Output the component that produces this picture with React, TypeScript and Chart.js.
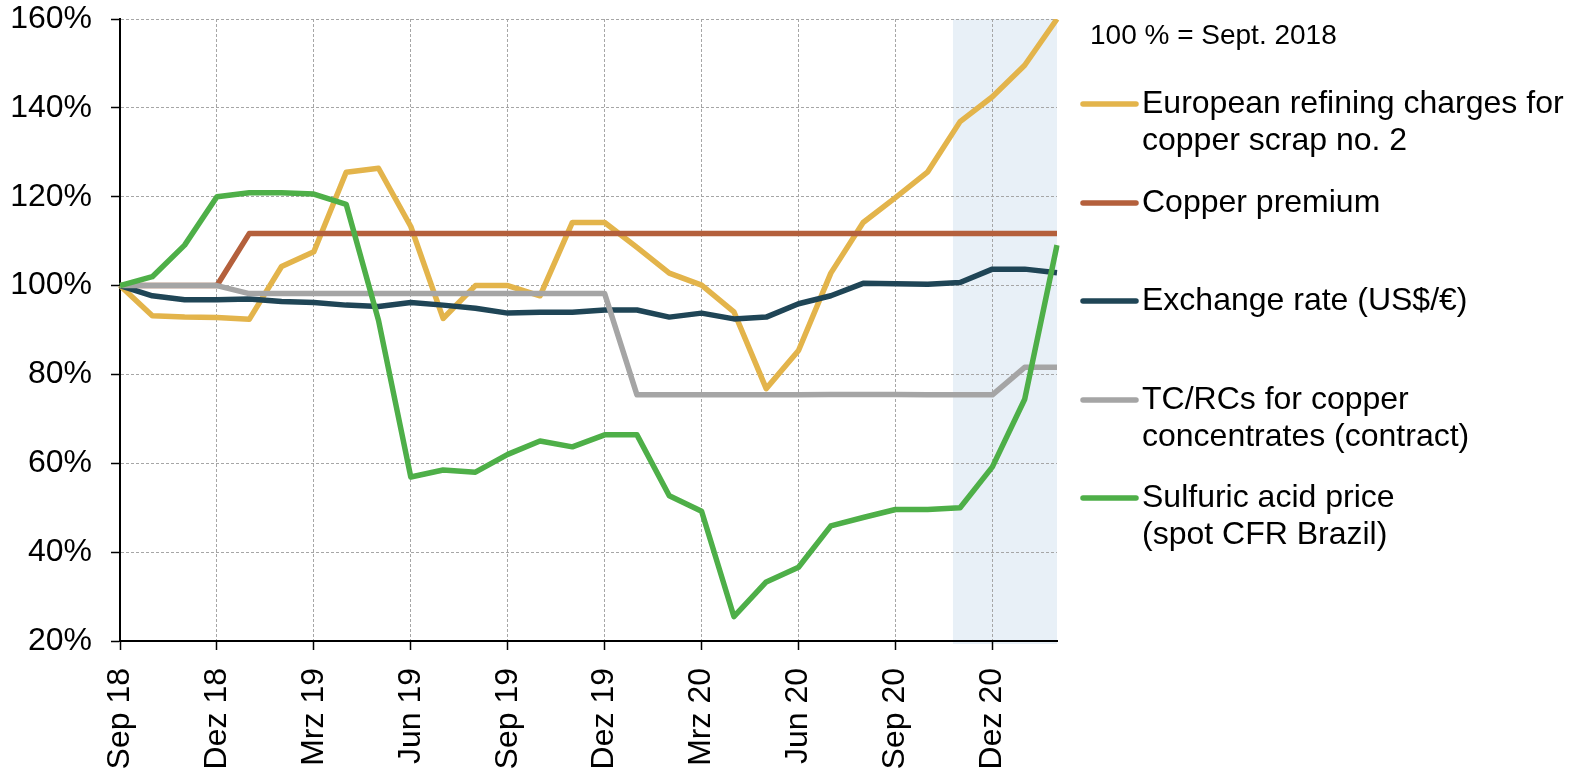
import React, { useEffect, useRef } from 'react';
import { Chart, registerables } from 'chart.js';

Chart.register(...registerables);

const months = [
  'Sep 18', 'Okt 18', 'Nov 18', 'Dez 18', 'Jan 19', 'Feb 19', 'Mrz 19', 'Apr 19', 'Mai 19', 'Jun 19',
  'Jul 19', 'Aug 19', 'Sep 19', 'Okt 19', 'Nov 19', 'Dez 19', 'Jan 20', 'Feb 20', 'Mrz 20', 'Apr 20',
  'Mai 20', 'Jun 20', 'Jul 20', 'Aug 20', 'Sep 20', 'Okt 20', 'Nov 20', 'Dez 20', 'Jan 21', 'Feb 21',
];

const refiningCharges = [
  100, 93.2, 92.9, 92.8, 92.4, 104.3, 107.6, 125.5, 126.4, 113.3,
  92.6, 100, 100, 97.7, 114.2, 114.2, 108.6, 102.8, 100.1, 94.1,
  76.8, 85.4, 102.8, 114.2, 119.8, 125.6, 136.9, 142.5, 149.6, 160,
];

const copperPremium = [
  100, 100, 100, 100, 111.7, 111.7, 111.7, 111.7, 111.7, 111.7,
  111.7, 111.7, 111.7, 111.7, 111.7, 111.7, 111.7, 111.7, 111.7, 111.7,
  111.7, 111.7, 111.7, 111.7, 111.7, 111.7, 111.7, 111.7, 111.7, 111.7,
];

const exchangeRate = [
  100, 97.7, 96.8, 96.8, 97.0, 96.4, 96.2, 95.6, 95.3, 96.2,
  95.6, 94.9, 93.8, 94.0, 94.0, 94.5, 94.5, 92.9, 93.8, 92.5,
  92.9, 95.9, 97.7, 100.5, 100.4, 100.3, 100.7, 103.7, 103.7, 102.9,
];

const tcRcs = [
  100, 100, 100, 100, 98.2, 98.2, 98.2, 98.2, 98.2, 98.2,
  98.2, 98.2, 98.2, 98.2, 98.2, 98.2, 75.4, 75.4, 75.4, 75.4,
  75.4, 75.4, 75.5, 75.5, 75.5, 75.4, 75.4, 75.4, 81.6, 81.6,
];

const sulfuricAcid = [
  100, 102.0, 109.1, 120.0, 120.9, 120.9, 120.6, 118.3, 92.2, 56.9,
  58.5, 58.0, 62.0, 65.0, 63.7, 66.4, 66.4, 52.7, 49.2, 25.5,
  33.3, 36.6, 45.9, 47.8, 49.6, 49.6, 50.0, 59.2, 74.4, 109.1,
];

const seriesNames = [
  ['European refining charges for', 'copper scrap no. 2'],
  ['Copper premium'],
  ['Exchange rate (US$/€)'],
  ['TC/RCs for copper', 'concentrates (contract)'],
  ['Sulfuric acid price', '(spot CFR Brazil)'],
];
const seriesColors = ['#E3B44B', '#B4603C', '#1F4556', '#A5A5A5', '#4EAF48'];
const legendRowY = [104, 203, 301, 400, 498];

const baseNote = '100 % = Sept. 2018';
const yMin = 20;
const yMax = 160;
const yStep = 20;
const tickEvery = 3;
const forecastStart = 25.78; // category index where the shaded period begins

const FONT = '"Liberation Sans", Arial, sans-serif';

export default function App() {
  const canvasRef = useRef<HTMLCanvasElement | null>(null);

  useEffect(() => {
    const canvas = canvasRef.current;
    if (!canvas) return;

    const shadePlugin = {
      id: 'shade',
      beforeDraw(chart: any) {
        const { ctx, chartArea, scales } = chart;
        const x0 = scales.x.getPixelForValue(forecastStart);
        ctx.save();
        ctx.fillStyle = '#E8F0F7';
        ctx.fillRect(x0, chartArea.top, chartArea.right - x0, chartArea.bottom - chartArea.top + 3);
        ctx.restore();
      },
    };

    const legendPlugin = {
      id: 'customLegend',
      afterDraw(chart: any) {
        const { ctx } = chart;
        ctx.save();
        ctx.fillStyle = '#000';
        ctx.textBaseline = 'middle';
        ctx.textAlign = 'left';
        ctx.font = `28px ${FONT}`;
        ctx.fillText(baseNote, 1090, 36);
        ctx.font = `32px ${FONT}`;
        seriesNames.forEach((lines, i) => {
          const y = legendRowY[i];
          ctx.strokeStyle = seriesColors[i];
          ctx.lineWidth = 5.5;
          ctx.lineCap = 'round';
          ctx.beginPath();
          ctx.moveTo(1083, y);
          ctx.lineTo(1136, y);
          ctx.stroke();
          lines.forEach((t, j) => {
            ctx.fillText(t, 1142, y + j * 37.5);
          });
        });
        ctx.restore();
      },
    };

    const mk = (data: number[], i: number) => ({
      label: seriesNames[i].join(' '),
      data,
      borderColor: seriesColors[i],
      backgroundColor: seriesColors[i],
      borderWidth: 5.5,
      pointRadius: 0,
      tension: 0,
      fill: false,
      order: 4 - i,
      borderJoinStyle: 'round' as const,
    });

    const chart = new Chart(canvas, {
      type: 'line',
      data: {
        labels: months,
        datasets: [
          mk(refiningCharges, 0),
          mk(copperPremium, 1),
          mk(exchangeRate, 2),
          mk(tcRcs, 3),
          mk(sulfuricAcid, 4),
        ],
      },
      options: {
        animation: false,
        responsive: true,
        maintainAspectRatio: false,
        layout: { padding: { top: 19, right: 524, left: 0, bottom: 0 } },
        plugins: {
          legend: { display: false },
          tooltip: { enabled: false },
        },
        scales: {
          x: {
            type: 'category',
            offset: false,
            afterFit: (s: any) => {
              s.height = 129;
              s.paddingLeft = 0;
              s.paddingRight = 0;
            },
            grid: {
              color: (c: any) => (c.index % tickEvery === 0 ? '#A6A6A6' : 'rgba(0,0,0,0)'),
              tickColor: (c: any) => (c.index % tickEvery === 0 ? '#000' : 'rgba(0,0,0,0)'),
              lineWidth: 1,
              tickLength: 9,
              tickWidth: 1.5,
            },
            border: { display: true, color: '#000', width: 2, dash: [3, 2] },
            ticks: {
              autoSkip: false,
              maxRotation: 90,
              minRotation: 90,
              padding: 18,
              color: '#000',
              font: { family: FONT, size: 32 },
              callback: (_v: any, i: number) => (i % tickEvery === 0 ? months[i] : ''),
            },
          },
          y: {
            min: yMin,
            max: yMax,
            afterFit: (s: any) => {
              s.width = 120;
              s.paddingTop = 0;
              s.paddingBottom = 0;
            },
            grid: {
              color: '#A6A6A6',
              tickColor: '#000',
              lineWidth: 1,
              tickLength: 9,
              tickWidth: 1.5,
            },
            border: { display: true, color: '#000', width: 2, dash: [3, 2] },
            ticks: {
              stepSize: yStep,
              padding: 19,
              color: '#000',
              font: { family: FONT, size: 32 },
              callback: (v: any) => `${v}%`,
            },
          },
        },
      },
      plugins: [shadePlugin, legendPlugin],
    });

    return () => chart.destroy();
  }, []);

  return (
    <div style={{ position: 'absolute', left: 0, top: 0, width: 1581, height: 770, background: '#fff' }}>
      <canvas ref={canvasRef} />
    </div>
  );
}
